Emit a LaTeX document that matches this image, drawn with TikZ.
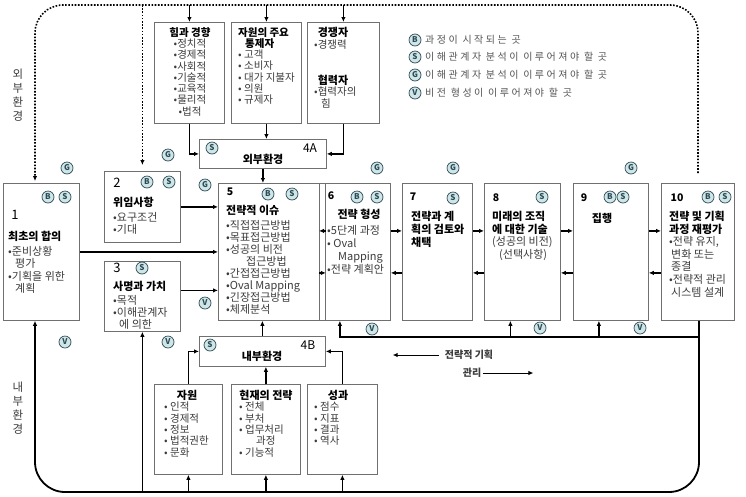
\documentclass[tikz,border=0pt]{standalone}
\usepackage{fontspec}
\setmainfont{Noto Sans CJK KR}
\newfontfamily\legfont{Noto Sans CJK KR}[LetterSpace=25]
\usetikzlibrary{arrows.meta,calc}
\definecolor{boxgray}{HTML}{707070}
\definecolor{txtgray}{HTML}{3C3C3C}
\definecolor{leggray}{HTML}{555555}
\definecolor{badgefill}{HTML}{CFE6E6}
\definecolor{badgeline}{HTML}{2E4A58}
\newcommand{\bxtitle}[1]{{\color{black}\bfseries #1}}
\tikzset{
  box/.style={draw=boxgray, line width=0.8pt, anchor=north west, inner sep=0pt},
  txt/.style={anchor=north west, inner sep=0pt, align=left, text=txtgray, font=\fontsize{11}{12}\selectfont},
  hdr/.style={inner sep=0pt, font=\fontsize{11}{12}\selectfont\bfseries},
  numA/.style={inner sep=0pt, font=\fontsize{13}{13}\selectfont},
  numB/.style={inner sep=0pt, font=\fontsize{10.5}{10.5}\selectfont\bfseries},
  badge/.style={circle, draw=badgeline, line width=0.7pt, fill=badgefill, inner sep=0pt,
    minimum size=12pt, text=badgeline, font=\fontsize{8}{8}\selectfont\bfseries},
  legtxt/.style={anchor=west, inner sep=0pt, text=leggray, font=\legfont\fontsize{10}{10}\selectfont},
  side/.style={inner sep=0pt, align=center, text=txtgray, font=\fontsize{11.5}{14}\selectfont},
  conn/.style={line width=1.3pt},
  frame/.style={line width=1.8pt},
  dotline/.style={line width=1.6pt, dash pattern=on 1.6pt off 1.6pt},
}
\begin{document}
\begin{tikzpicture}[x=1pt,y=-1pt,>={Latex[length=5pt,width=4.5pt]}]
\useasboundingbox[fill=white] (0,0) rectangle (746,496);

% boxes
\node[box, minimum width=76pt, minimum height=137pt] (b1) at (3,183) {};
\node[box, minimum width=76pt, minimum height=71pt] (b2) at (104,171) {};
\node[box, minimum width=76pt, minimum height=70pt] (b3) at (104,261) {};
\node[box, minimum width=127pt, minimum height=29pt] (e4A) at (199,139) {};
\node[box, minimum width=126pt, minimum height=30pt] (e4B) at (199,336) {};
\foreach \n/\x/\w in {b5/218/107, b6/319/71, b7/402/70, b8/484/76, b9/573/75, b10/661/73}
    \node[box, minimum width=\w pt, minimum height=137pt] (\n) at (\x,183) {};
\foreach \n/\x/\w in {t1/154/70, t2/231/70, t3/307/72}
    \node[box, minimum width=\w pt, minimum height=101pt] (\n) at (\x,22) {};
\foreach \n/\x/\w in {r1/154/68, r2/231/69, r3/307/70}
    \node[box, minimum width=\w pt, minimum height=90pt] (\n) at (\x,384) {};

% box texts
\node[numA] (n1) at (15,215) {1};
\node[txt, font=\fontsize{11}{12.6}\selectfont] (x1) at (8,231) {\bxtitle{최초의 합의}\\[2pt]•준비상황\\\hspace*{7pt}평가\\•기획을 위한\\\hspace*{7pt}계획};
\node[numA] (n2) at (117,183) {2};
\node[txt] (x2) at (113,197) {\bxtitle{위임사항}\\[3pt]•요구조건\\•기대};
\node[numA] (n3) at (117,268) {3};
\node[txt] (x3) at (113,281) {\bxtitle{사명과 가치}\\[2pt]•목적\\•이해관계자\\\hspace*{6pt}에 의한};
\node[numB] (n5) at (230,192) {5};
\node[txt] (x5) at (226,205) {\bxtitle{전략적 이슈}\\[3pt]•직접접근방법\\•목표접근방법\\•성공의 비전\\\hspace*{20pt}접근방법\\•간접접근방법\\•Oval Mapping\\•긴장접근방법\\•체제분석};
\node[numB] (n6) at (331,196) {6};
\node[hdr] (h6) at (359,214) {전략 형성};
\node[txt, font=\fontsize{11}{13}\selectfont] (x6) at (327,225) {•5단계 과정\\• Oval\\\hspace*{11pt}Mapping\\•전략 계획안};
\node[numB] (n7) at (413,197) {7};
\node[txt, font=\fontsize{11}{13}\selectfont\bfseries, text=black] (x7) at (411,211) {전략과 계\\획의 검토와\\채택};
\node[numB] (n8) at (496,198) {8};
\node[txt, font=\fontsize{11}{12.7}\selectfont] (x8) at (492,211) {\bxtitle{미래의 조직}\\\bxtitle{에 대한 기술}\\(성공의 비전)\\\hspace*{7pt}(선택사항)};
\node[numB] (n9) at (584,198) {9};
\node[hdr] (h9) at (602,218) {집행};
\node[numB] (n10) at (677,198) {10};
\node[txt, font=\fontsize{11}{12.6}\selectfont] (x10) at (669,211) {\bxtitle{전략 및 기획}\\\bxtitle{과정 재평가}\\•전략 유지,\\\hspace*{2pt}변화 또는\\\hspace*{2pt}종결\\•전략적 관리\\\hspace*{2pt}시스템 설계};

\node[txt, align=center, anchor=north, font=\fontsize{10.5}{11.3}\selectfont] (x11) at (190,27) {\bxtitle{힘과 경향}\\•정치적\\•경제적\\•사회적\\•기술적\\•교육적\\•물리적\\•법적};
\node[txt, font=\fontsize{10.5}{11.3}\selectfont] (x12) at (238,27) {\bxtitle{자원의 주요}\\\hspace*{7pt}\bxtitle{통제자}\\• 고객\\• 소비자\\• 대가 지불자\\• 의원\\• 규제자};
\node[hdr] (h13a) at (333,32) {경쟁자};
\node[txt, font=\fontsize{10.5}{11.5}\selectfont] (x13a) at (314,40) {•경쟁력};
\node[hdr] (h13b) at (333,80) {협력자};
\node[txt, font=\fontsize{10.5}{11.5}\selectfont] (x13b) at (314,87) {•협력자의\\\hspace*{7pt}힘};

\node[hdr] (h21) at (187,395) {자원};
\node[txt, font=\fontsize{10.5}{11.3}\selectfont] (x21) at (164,402) {• 인적\\• 경제적\\• 정보\\• 법적권한\\• 문화};
\node[hdr] (h22) at (266,395) {현재의 전략};
\node[txt, font=\fontsize{10.5}{11.3}\selectfont] (x22) at (239,402) {• 전체\\• 부처\\• 업무처리\\\hspace*{17pt}과정\\• 기능적};
\node[hdr] (h23) at (338,395) {성과};
\node[txt, font=\fontsize{10.5}{11.3}\selectfont] (x23) at (314,402) {• 점수\\• 지표\\• 결과\\• 역사};

\node[numA, font=\fontsize{12}{12}\selectfont] (l4A) at (310,148) {4A};
\node[hdr] (h4A) at (263,159) {외부환경};
\node[numA, font=\fontsize{12}{12}\selectfont] (l4B) at (308,345) {4B};
\node[hdr] (h4B) at (262,356) {내부환경};

\node[side] (sideA) at (18,95) {외\\부\\환\\경};
\node[side] (sideB) at (18,408) {내\\부\\환\\경};

% legend
\foreach \n/\y/\l/\t in {lgB/40/B/과정이 시작되는 곳, lgS/57/S/이해관계자 분석이 이루어져야 할 곳,
    lgG/75/G/이해관계자 분석이 이루어져야 할 곳, lgV/93/V/비전 형성이 이루어져야 할 곳} {
    \node[badge] (\n) at (415,\y) {\l};
    \node[legtxt] (\n txt) at (425,\y) {\t};
}

% outer environment (dotted)
\coordinate (fTL) at (35,5);
\coordinate (fTR) at (698,5);
\draw[dotline,->,rounded corners=28pt] ($(b10.north -| fTR)+(0,-10)$) -- (fTR) -- (fTL) -- ($(b1.north -| fTL)+(0,-2)$);
\draw[dotline,->] (b2.north |- fTL) -- ($(b2.north)+(0,-6)$);
\foreach \n in {t1,t2,t3}
    \draw[conn,->] (\n.north |- fTL) -- (\n.north);
\draw[conn,->] (t1.south) |- (e4A.west);
\draw[conn,->] (t2.south) -- (t2.south |- e4A.north);
\draw[conn,->] (t3.south) |- (e4A.east);
\draw[conn,->] (e4A.south) -- (e4A.south |- b5.north);

% into issues
\draw[conn,->] (b2.east) -- (b2.east -| b5.west);
\draw[conn,->] (b1.east) -- (b1.east -| b5.west);
\coordinate (a3) at ($(b3.east)+(0,-6)$);
\draw[conn,->] (a3) -- (a3 -| b5.west);
\draw[conn,->] (e4B.north) -- (e4B.north |- b5.south);

% forward / back
\foreach \a/\b in {b5/b6, b6/b7, b7/b8, b8/b9, b9/b10} {
    \draw[conn,->] ($(\a.east)+(0,-21)$) -- ($(\b.west)+(0,-21)$);
    \draw[conn,->] ($(\b.west)+(0,21)$) -- ($(\a.east)+(0,21)$);
}

% internal environment
\draw[conn,->] (r1.north) |- (e4B.west);
\draw[conn,->] (r2.north) -- (r2.north |- e4B.south);
\draw[conn,->] (r3.north) |- (e4B.east);

% bottom loop
\coordinate (fBL) at (35,492);
\coordinate (fBR) at (699,492);
\draw[frame,->,rounded corners=30pt] (b10.south -| fBR) -- (fBR) -- (fBL) -- (b1.south -| fBL);
\foreach \n in {b3,r1,r2,r3}
    \draw[conn,->] (\n.south |- fBL) -- (\n.south);
\coordinate (vbr) at (699,337);
\draw[conn,->] (vbr) -| ($(b6.south)+(-15,0)$);
\draw[conn,->] ($(b8.south)+(-12,17)$) -- ($(b8.south)+(-12,0)$);
\draw[conn,->] ($(b9.south)+(-12,17)$) -- ($(b9.south)+(-12,0)$);

\node[hdr, font=\fontsize{10}{12}\selectfont\bfseries, text=txtgray] (mgA) at (469,355) {전략적 기획};
\node[hdr, font=\fontsize{10}{12}\selectfont\bfseries, text=txtgray] (mgB) at (472,373) {관리};
\draw[line width=1pt,->] ($(mgA.west)+(-6,0)$) -- ++(-46,0);
\draw[line width=1pt,->] ($(mgB.east)+(2,0)$) -- ++(50,0);

% badges
\foreach \n/\p/\l in {b1B/{48,197}/B, b1S/{65,197}/S, b1G/{67,168}/G, b2B/{147,182}/B, b2S/{169,182}/S,
    b2G/{168,155}/G, b5G/{205,185}/G, b3S/{142,268}/S, b3V/{205,303}/V, b1V/{65,342}/V,
    e4AS/{212,148}/S, e4BS/{210,345}/S, e4BV/{168,342}/V, b5B/{268,194}/B, b5S/{292,194}/S,
    b6G/{377,168}/G, b6B/{357,197}/B, b6S/{377,197}/S, b7G/{453,168}/G, b7S/{453,198}/S,
    b8S/{542,197}/S, b9B/{610,197}/B, b9S/{623,197}/S, b9G/{631,168}/G, b10B/{708,197}/B,
    b10S/{725,197}/S, b6V/{372,329}/V, b8V/{540,328}/V, b9V/{640,328}/V}
    \node[badge] (\n) at (\p) {\l};
\end{tikzpicture}
\end{document}
